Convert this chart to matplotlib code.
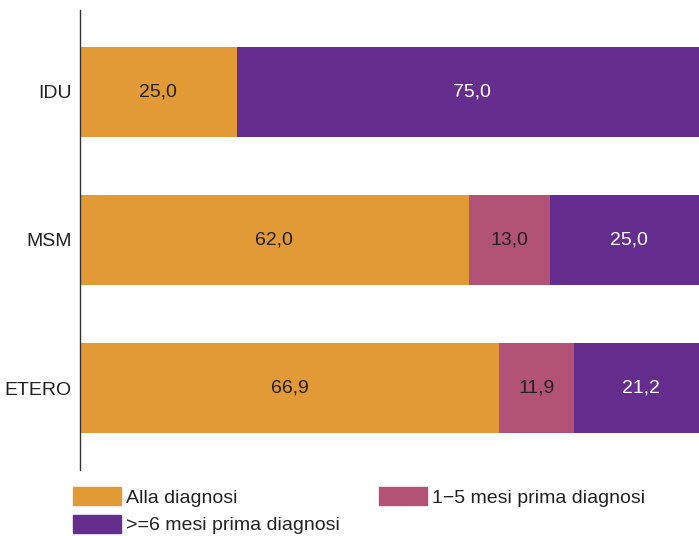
import numpy as np
import matplotlib.pyplot as plt
from matplotlib.patches import Patch

plt.switch_backend('agg')
plt.rcParams['font.family'] = ['Liberation Sans', 'DejaVu Sans']

# dati
gruppi = ["IDU", "MSM", "ETERO"]
alla_diagnosi = [25.0, 62.0, 66.9]
mesi_1_5 = [0.0, 13.0, 11.9]
mesi_6 = [75.0, 25.0, 21.2]
serie_nomi = ["Alla diagnosi", "1\u22125 mesi prima diagnosi", ">=6 mesi prima diagnosi"]

colori = ["#E29A37", "#B25276", "#652D8E"]
col_testo = ["#222222", "#222222", "white"]
fs = 14

W, H = 699, 536
fig = plt.figure(figsize=(W / 100, H / 100), dpi=100)
ax = fig.add_axes([80 / W, 1 - 470 / H, 627 / W, 460 / H])

y = np.arange(len(gruppi))
left = np.zeros(len(gruppi))
for valori, col, tc in zip([alla_diagnosi, mesi_1_5, mesi_6], colori, col_testo):
    valori = np.array(valori)
    ax.barh(y, valori, left=left, height=0.608, color=col, linewidth=0)
    for yi, l, v in zip(y, left, valori):
        if v > 0:
            ax.text(l + v / 2, yi, f"{v:.1f}".replace(".", ","), ha="center", va="center",
                    fontsize=fs, color=tc)
    left = left + valori

ax.set_xlim(0, 100)
ax.set_ylim(2.554, -0.554)
ax.set_yticks(y)
ax.set_yticklabels(gruppi, fontsize=fs, color="#222222")
ax.tick_params(axis="y", length=0, pad=5.8)
ax.set_xticks([])
for s in ["top", "right", "bottom"]:
    ax.spines[s].set_visible(False)
ax.spines["left"].set_color("#333333")
ax.spines["left"].set_linewidth(1.0)

# legenda: ordine per avere due righe
handles = [Patch(color=c) for c in colori]
ordine = [0, 2, 1]
fig.legend([handles[i] for i in ordine], [serie_nomi[i] for i in ordine],
           loc="upper left", bbox_to_anchor=(73 / W, 1 - 487 / H), ncol=2,
           frameon=False, fontsize=fs, borderpad=0, borderaxespad=0,
           handlelength=2.47, handleheight=1.08, handletextpad=0.25,
           columnspacing=2.0, labelspacing=0.4, labelcolor="#222222")

plt.savefig("out.png", dpi=100)
